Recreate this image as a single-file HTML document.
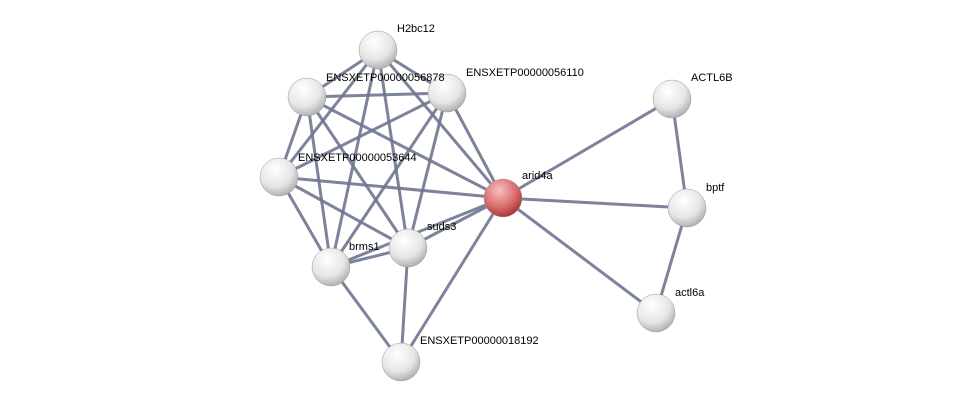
<!DOCTYPE html>
<html><head><meta charset="utf-8"><style>
html,body{margin:0;padding:0;background:#fff;}
svg{display:block;}
text{font-family:"Liberation Sans",sans-serif;font-size:11px;fill:#000;}
</style></head><body>
<svg width="975" height="407" viewBox="0 0 975 407" xmlns="http://www.w3.org/2000/svg">
<defs>
<radialGradient id="g" cx="0.4" cy="0.3" r="0.75">
<stop offset="0" stop-color="#ffffff"/><stop offset="0.6" stop-color="#e6e6e6"/><stop offset="1" stop-color="#a8a8a8"/>
</radialGradient>
<radialGradient id="r" cx="0.4" cy="0.3" r="0.75">
<stop offset="0" stop-color="#f6c0c0"/><stop offset="0.6" stop-color="#d96a6a"/><stop offset="1" stop-color="#a03030"/>
</radialGradient>
</defs>
<g stroke="#6e7590" stroke-width="3" stroke-opacity="0.9">
<!-- cluster -->
<line x1="378" y1="50" x2="307" y2="97"/>
<line x1="378" y1="50" x2="447" y2="93"/>
<line x1="378" y1="50" x2="279" y2="177"/>
<line x1="378" y1="50" x2="408" y2="248"/>
<line x1="378" y1="50" x2="331" y2="267"/>
<line x1="378" y1="50" x2="503" y2="198"/>
<line x1="307" y1="97" x2="447" y2="93"/>
<line x1="307" y1="97" x2="279" y2="177"/>
<line x1="307" y1="97" x2="408" y2="248"/>
<line x1="307" y1="97" x2="331" y2="267"/>
<line x1="307" y1="97" x2="503" y2="198"/>
<line x1="447" y1="93" x2="279" y2="177"/>
<line x1="447" y1="93" x2="408" y2="248"/>
<line x1="447" y1="93" x2="331" y2="267"/>
<line x1="447" y1="93" x2="503" y2="198"/>
<line x1="279" y1="177" x2="408" y2="248"/>
<line x1="279" y1="177" x2="331" y2="267"/>
<line x1="279" y1="177" x2="503" y2="198"/>
<line x1="408" y1="248" x2="331" y2="267"/>
<line x1="408" y1="248" x2="503" y2="198"/>
<line x1="331" y1="267" x2="503" y2="198"/>
<line x1="401" y1="362" x2="331" y2="267"/>
<line x1="401" y1="362" x2="408" y2="248"/>
<line x1="401" y1="362" x2="503" y2="198"/>
<line x1="503" y1="198" x2="672" y2="99"/>
<line x1="503" y1="198" x2="687" y2="208"/>
<line x1="503" y1="198" x2="656" y2="313"/>
<line x1="672" y1="99" x2="687" y2="208"/>
<line x1="687" y1="208" x2="656" y2="313"/>
</g>
<g stroke="#999" stroke-width="0.5">
<circle cx="378" cy="50" r="19" fill="url(#g)"/>
<circle cx="307" cy="97" r="19" fill="url(#g)"/>
<circle cx="447" cy="93" r="19" fill="url(#g)"/>
<circle cx="279" cy="177" r="19" fill="url(#g)"/>
<circle cx="503" cy="198" r="19" fill="url(#r)"/>
<circle cx="672" cy="99" r="19" fill="url(#g)"/>
<circle cx="687" cy="208" r="19" fill="url(#g)"/>
<circle cx="656" cy="313" r="19" fill="url(#g)"/>
<circle cx="408" cy="248" r="19" fill="url(#g)"/>
<circle cx="331" cy="267" r="19" fill="url(#g)"/>
<circle cx="401" cy="362" r="19" fill="url(#g)"/>
</g>
<text x="397" y="32">H2bc12</text>
<text x="326" y="81">ENSXETP00000056878</text>
<text x="466" y="76">ENSXETP00000056110</text>
<text x="298" y="161">ENSXETP00000053644</text>
<text x="522" y="179">arid4a</text>
<text x="691" y="81">ACTL6B</text>
<text x="706" y="191">bptf</text>
<text x="675" y="296">actl6a</text>
<text x="427" y="230">suds3</text>
<text x="349" y="250">brms1</text>
<text x="420" y="344">ENSXETP00000018192</text>
</svg>
</body></html>
